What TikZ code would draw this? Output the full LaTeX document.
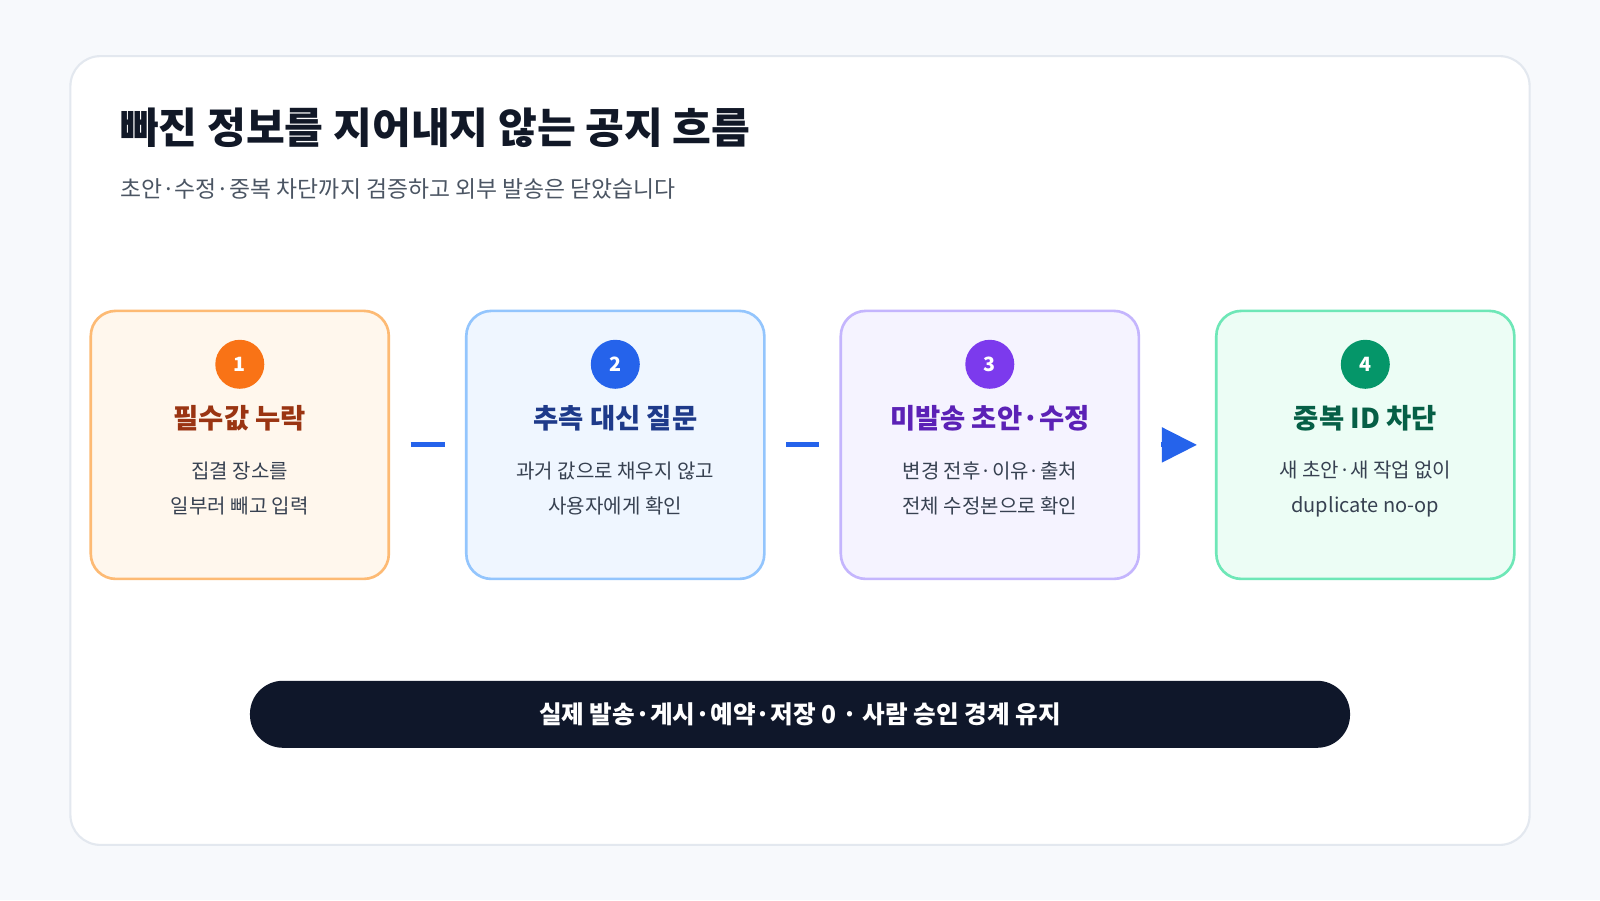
\documentclass[tikz,border=0pt]{standalone}
\usepackage{fontspec}
\setmainfont{Noto Sans CJK KR}
\usetikzlibrary{arrows.meta,positioning}
\definecolor{bgpage}{HTML}{F7F9FC}
\definecolor{cardline}{HTML}{E3E8EF}
\definecolor{titlec}{HTML}{111827}
\definecolor{subc}{HTML}{4B5563}
\definecolor{bodyc}{HTML}{374151}
\definecolor{connc}{HTML}{2563EB}
\definecolor{pillc}{HTML}{0F172A}
\definecolor{fillA}{HTML}{FFF7ED}\definecolor{lineA}{HTML}{FDBA74}\definecolor{dotA}{HTML}{F97316}\definecolor{headA}{HTML}{9A3412}
\definecolor{fillB}{HTML}{EFF6FF}\definecolor{lineB}{HTML}{93C5FD}\definecolor{dotB}{HTML}{2563EB}\definecolor{headB}{HTML}{1E3A8A}
\definecolor{fillC}{HTML}{F5F3FF}\definecolor{lineC}{HTML}{C4B5FD}\definecolor{dotC}{HTML}{7C3AED}\definecolor{headC}{HTML}{5B21B6}
\definecolor{fillD}{HTML}{ECFDF5}\definecolor{lineD}{HTML}{6EE7B7}\definecolor{dotD}{HTML}{059669}\definecolor{headD}{HTML}{065F46}
\tikzset{
  step/.style={draw=line#1,fill=fill#1,line width=0.75pt,rounded corners=2.5mm,minimum width=29.8mm,minimum height=26.8mm},
  badge/.style={circle,fill=dot#1,minimum size=4.9mm,inner sep=0pt,text=white,font=\fontsize{5.6}{6}\selectfont\bfseries},
  head/.style={text=head#1,font=\fontsize{7.8}{9}\selectfont\bfseries},
  body/.style={text=bodyc,font=\fontsize{5.7}{10}\selectfont,align=center},
  conn/.style={draw=connc,line width=1.4pt,shorten <=2.04mm,shorten >=2.04mm}
}
\begin{document}
\begin{tikzpicture}[x=0.10204mm,y=-0.10204mm]
		\useasboundingbox (0,0) rectangle (1568,882);
		\fill[bgpage] (0,0) rectangle (1568,882);
		\draw[cardline,fill=white,line width=0.6pt,rounded corners=3mm] (69,55) rectangle (1499,828);
		\node[anchor=west,inner sep=0pt,text=titlec,font=\fontsize{12}{14}\selectfont\bfseries] (title) at (117,125) {빠진 정보를 지어내지 않는 공지 흐름};
		\node[anchor=west,inner sep=0pt,text=subc,font=\fontsize{6.5}{8}\selectfont] (subtitle) at (117,185) {초안·수정·중복 차단까지 검증하고 외부 발송은 닫았습니다};
		
		\node[step=A] (missing) at (235,436) {};
		\node[step=B] (ask) at (603,436) {};
		\node[step=C] (draft) at (970,436) {};
		\node[step=D] (dedup) at (1338,436) {};
		
		\node[badge=A] at (235,357) {1};
		\node[badge=B] at (603,357) {2};
		\node[badge=C] at (970,357) {3};
		\node[badge=D] at (1338,357) {4};
		
		\node[head=A] at (235,410) {필수값 누락};
		\node[head=B] at (603,410) {추측 대신 질문};
		\node[head=C] at (970,410) {미발송 초안·수정};
		\node[head=D] at (1338,410) {중복 ID 차단};
		
		\node[body] at (235,479) {집결 장소를\\일부러 빼고 입력};
		\node[body] at (603,479) {과거 값으로 채우지 않고\\사용자에게 확인};
		\node[body] at (970,479) {변경 전후·이유·출처\\전체 수정본으로 확인};
		\node[body] at (1338,479) {새 초안·새 작업 없이\\duplicate no-op};
		
		\draw[conn] (missing) -- (ask);
		\draw[conn] (ask) -- (draft);
		\draw[conn,shorten <=2.1mm,shorten >=1.8mm,-{Triangle[length=3.5mm,width=3.4mm]}] (draft) -- (dedup);
		
		\node[fill=pillc,rounded corners=3.3mm,minimum width=110mm,minimum height=6.7mm,text=white,font=\fontsize{7}{8}\selectfont\bfseries] (guard) at (784,700) {실제 발송·게시·예약·저장 0 · 사람 승인 경계 유지};
\end{tikzpicture}
\end{document}
